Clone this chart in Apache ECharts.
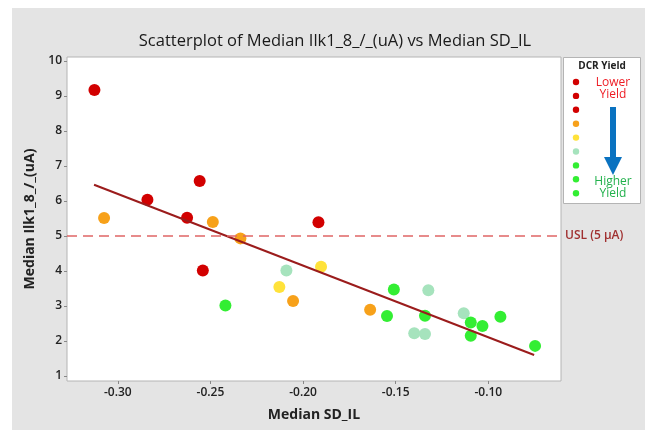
<!DOCTYPE html>
<html>
<head>
<meta charset="utf-8">
<script src="https://cdn.jsdelivr.net/npm/echarts@6.0.0/dist/echarts.min.js"></script>
<style>
  html, body { margin: 0; padding: 0; background: #ffffff; }
  #chart { width: 645px; height: 430px; }
</style>
</head>
<body>
<div id="chart"></div>
<script>
// points per yield group, [Median SD_IL, Median Ilk1_8]
const redPts = [[-0.3126, 9.17], [-0.284, 6.03], [-0.2558, 6.57], [-0.2626, 5.52], [-0.2541, 4.01], [-0.1917, 5.39]];
const orangePts = [[-0.3074, 5.51], [-0.2487, 5.40], [-0.2338, 4.93], [-0.2054, 3.14], [-0.1638, 2.89]];
const yellowPts = [[-0.1903, 4.12], [-0.2128, 3.54]];
const mintPts = [[-0.2090, 4.01], [-0.1324, 3.45], [-0.1133, 2.79], [-0.1400, 2.22], [-0.1342, 2.20]];
const greenPts = [[-0.2419, 3.01], [-0.1510, 3.47], [-0.1547, 2.71], [-0.1342, 2.72], [-0.1095, 2.53],
  [-0.1032, 2.43], [-0.0935, 2.69], [-0.1095, 2.15], [-0.0748, 1.86]];

// fitted line end points
const fitLine = [[-0.3128, 6.46], [-0.0753, 1.60]];
const uslValue = 5;

const xTicks = [-0.30, -0.25, -0.20, -0.15, -0.10];
const yTicks = [1, 2, 3, 4, 5, 6, 7, 8, 9, 10];

const legendColors = ["#d20000", "#d20000", "#d20000", "#f7a11a", "#ffe23a", "#a6e3bd", "#33ee33", "#33ee33", "#33ee33"];

const font = "'Open Sans', 'Noto Sans', sans-serif";

var chart = echarts.init(document.getElementById("chart"));

function pts(name, data, color) {
  return {
    name: name,
    type: "scatter",
    data: data,
    symbolSize: 12,
    itemStyle: { color: color, opacity: 1 },
    z: 3,
    silent: true
  };
}

// legend dots + text (right box)
var legendGraphics = [];
legendColors.forEach(function (c, i) {
  legendGraphics.push({
    type: "circle",
    shape: { cx: 576, cy: 82 + i * 13.9, r: 3.2 },
    style: { fill: c },
    z: 10
  });
});

var option = {
  backgroundColor: "#ffffff",
  animation: false,
  title: {
    text: "Scatterplot of Median Ilk1_8_/_(uA) vs Median SD_IL",
    left: 330,
    textAlign: "center",
    top: 28,
    textStyle: { fontFamily: font, fontSize: 16.5, fontWeight: "normal", color: "#1a1a1a" }
  },
  grid: {
    left: 67, top: 57, right: 84, bottom: 49,
    show: true, backgroundColor: "#ffffff", borderColor: "#b4b4b4", borderWidth: 1
  },
  xAxis: {
    type: "value",
    min: -0.3274,
    max: -0.0608,
    name: "Median SD_IL",
    nameLocation: "middle",
    nameGap: 27,
    nameTextStyle: { fontFamily: font, fontSize: 14, fontWeight: "bold", color: "#222" },
    axisLine: { show: false },
    splitLine: { show: false },
    axisTick: { show: true, length: 3, lineStyle: { color: "#888" }, customValues: xTicks },
    axisLabel: {
      fontFamily: font, fontSize: 12, fontWeight: 600, color: "#222", margin: 6,
      customValues: xTicks,
      formatter: function (v) { return v.toFixed(2); }
    }
  },
  yAxis: {
    type: "value",
    min: 0.857,
    max: 10.11,
    name: "Median Ilk1_8_/_(uA)",
    nameLocation: "middle",
    nameGap: 29,
    nameTextStyle: { fontFamily: font, fontSize: 14, fontWeight: "bold", color: "#222" },
    axisLine: { show: false },
    splitLine: { show: false },
    axisTick: { show: true, length: 3, lineStyle: { color: "#888" }, customValues: yTicks },
    axisLabel: {
      fontFamily: font, fontSize: 12, fontWeight: 600, color: "#222", margin: 5,
      customValues: yTicks
    }
  },
  graphic: [
    { type: "rect", shape: { x: 12, y: 8, width: 640, height: 430 }, style: { fill: "#e4e4e4" }, z: -10, silent: true },
    { type: "rect", shape: { x: 563.5, y: 57.5, width: 77, height: 146 }, style: { fill: "#ffffff", stroke: "#b4b4b4", lineWidth: 1 }, z: 5 },
    { type: "text", style: { x: 602, y: 66, text: "DCR Yield", fill: "#222", font: "bold 10px " + font, textAlign: "center", textVerticalAlign: "middle" }, z: 10 },
    { type: "text", style: { x: 613, y: 83, text: "Lower", fill: "#ee1c24", font: "12px " + font, textAlign: "center", textVerticalAlign: "middle" }, z: 10 },
    { type: "text", style: { x: 613, y: 95, text: "Yield", fill: "#ee1c24", font: "12px " + font, textAlign: "center", textVerticalAlign: "middle" }, z: 10 },
    { type: "rect", shape: { x: 610, y: 107, width: 6, height: 52 }, style: { fill: "#0a72c0" }, z: 10 },
    { type: "polygon", shape: { points: [[604, 157], [622, 157], [613, 175]] }, style: { fill: "#0a72c0" }, z: 10 },
    { type: "text", style: { x: 613, y: 182, text: "Higher", fill: "#22b14c", font: "12px " + font, textAlign: "center", textVerticalAlign: "middle" }, z: 10 },
    { type: "text", style: { x: 613, y: 194, text: "Yield", fill: "#22b14c", font: "12px " + font, textAlign: "center", textVerticalAlign: "middle" }, z: 10 }
  ].concat(legendGraphics),
  series: [
    pts("red", redPts, "#d20000"),
    pts("orange", orangePts, "#f7a11a"),
    pts("yellow", yellowPts, "#ffe23a"),
    pts("mint", mintPts, "#a6e3bd"),
    pts("green", greenPts, "#33ee33"),
    {
      name: "fit",
      type: "line",
      data: fitLine,
      symbol: "none",
      silent: true,
      z: 4,
      lineStyle: { color: "#9b1c1c", width: 2 },
      markLine: {
        silent: true,
        symbol: "none",
        lineStyle: { color: "#e06666", type: [10, 6], width: 1.6 },
        label: {
          show: true, position: "end", distance: 4,
          formatter: "USL (5 μA)",
          fontFamily: font, fontSize: 12, fontWeight: 600, color: "#a03030"
        },
        data: [{ yAxis: uslValue }]
      }
    }
  ]
};

chart.setOption(option);
</script>
</body>
</html>
